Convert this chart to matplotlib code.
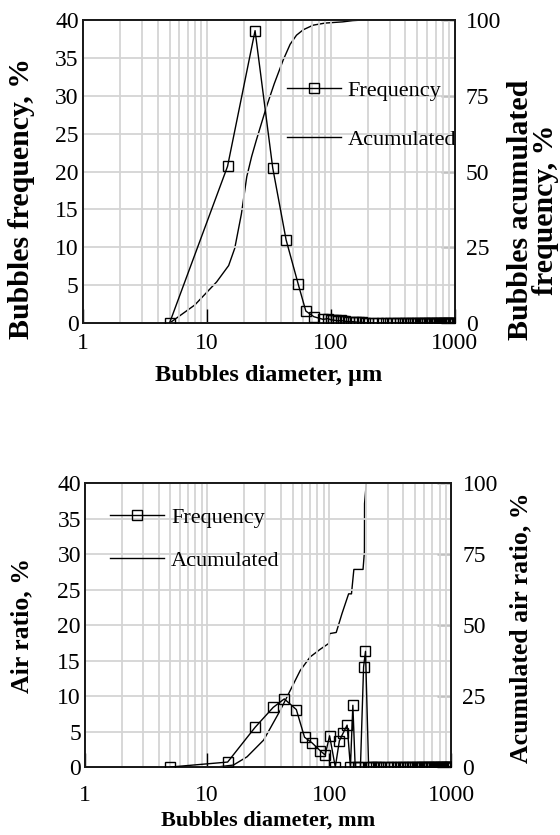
import matplotlib
matplotlib.use("Agg")
import matplotlib.pyplot as plt
from matplotlib.ticker import LogLocator, NullFormatter, FixedLocator, FixedFormatter

plt.rcParams['font.family'] = ['Liberation Serif', 'DejaVu Serif']

# ---------------- Top chart data (bubble diameter, µm) ----------------
top_freq_x = [5, 14.7, 24.5, 34, 43.6, 54.5, 62.9, 73, 86.7, 95, 100, 105, 110, 115, 120,
              125, 130, 140, 150, 160, 170, 180, 190, 200, 220, 240, 260, 280, 300, 320,
              340, 360, 380, 400, 420, 440, 460, 480, 500, 520, 540, 560, 580, 600, 620,
              640, 660, 680, 700, 720, 740, 760, 780, 800, 820, 840, 860, 880, 900, 920,
              940, 960, 980, 1000]
top_freq_y = [0.0, 20.7, 38.6, 20.5, 11.0, 5.2, 1.6, 0.85, 0.5, 0.6, 0.45, 0.4, 0.35, 0.3, 0.35,
              0.3, 0.25, 0.2, 0.2, 0.15, 0.1, 0.1, 0.05, 0.05, 0.0, 0.0, 0.0, 0.0, 0.0, 0.0,
              0.0, 0.0, 0.0, 0.0, 0.0, 0.0, 0.0, 0.0, 0.0, 0.0, 0.0, 0.0, 0.0, 0.0, 0.0,
              0.0, 0.0, 0.0, 0.0, 0.0, 0.0, 0.0, 0.0, 0.0, 0.0, 0.0, 0.0, 0.0, 0.0, 0.0,
              0.0, 0.0, 0.0, 0.0]
top_cum_x = [5, 8, 12, 15, 16.8, 19, 21, 23, 25.1, 30.3, 35, 41.3, 47, 52.9, 60, 72, 90, 125, 150, 180]
top_cum_y = [0, 6, 13.6, 19, 24.7, 36, 48.3, 55, 60.4, 71.4, 79, 86.8, 92, 95, 96.8, 98.3, 99, 99.4, 99.8, 100]

# ---------------- Bottom chart data (bubble diameter, mm) ----------------
bot_freq_x = [5, 14.7, 24.7, 34.7, 42.8, 53.7, 62.7, 72.3, 84.2, 92.5, 100.6, 112, 121, 130, 140,
              149, 156, 163, 172, 180, 191, 198, 210, 220, 230, 240, 250, 260, 280, 300,
              320, 340, 360, 380, 400, 420, 440, 460, 480, 500, 520, 540, 560, 580, 600,
              620, 640, 660, 680, 700, 720, 740, 760, 780, 800, 820, 840, 860, 880, 900,
              920, 940, 960, 980, 1000]
bot_freq_y = [0.0, 0.7, 5.6, 8.4, 9.6, 8.1, 4.2, 3.4, 2.3, 1.7, 4.4, 0.0, 3.7, 4.8, 5.9,
              0.0, 8.7, 0.0, 0.0, 0.0, 14.1, 16.3, 0.0, 0.0, 0.0, 0.0, 0.0, 0.0, 0.0, 0.0,
              0.0, 0.0, 0.0, 0.0, 0.0, 0.0, 0.0, 0.0, 0.0, 0.0, 0.0, 0.0, 0.0, 0.0, 0.0,
              0.0, 0.0, 0.0, 0.0, 0.0, 0.0, 0.0, 0.0, 0.0, 0.0, 0.0, 0.0, 0.0, 0.0, 0.0,
              0.0, 0.0, 0.0, 0.0, 0.0]
bot_cum_x = [12, 16.4, 21.2, 29, 39.7, 47.9, 57.8, 69.8, 84.4, 98.8, 100.6, 114, 127, 144, 152,
             156, 159, 189, 194, 194.5, 201]
bot_cum_y = [0, 0.7, 3.6, 9.5, 20, 27, 34, 38.8, 41.5, 43.5, 47, 47.4, 54, 61, 61,
             66, 69.6, 69.6, 75.8, 92.8, 100]

x_ticks = [1, 10, 100, 1000]
x_tick_labels = ['1', '10', '100', '1000']
left_ticks = [0, 5, 10, 15, 20, 25, 30, 35, 40]
right_ticks = [0, 25, 50, 75, 100]
legend_labels = ['Frequency', 'Acumulated']

fig = plt.figure(figsize=(5.6, 8.35), dpi=100)

TICK_FS = 17
GRID_C = '#d4d4d4'


def setup(ax, axr, xlabel, ylabel, rlabel, xlab_fs, ylab_fs, ylab_xy, rlab_xy,
          xtick_pad, xlabelpad, rlinespacing=1.0):
    ax.set_xscale('log')
    ax.set_xlim(1, 1000)
    ax.set_ylim(0, 40)
    axr.set_ylim(0, 100)
    ax.xaxis.set_major_locator(FixedLocator(x_ticks))
    ax.xaxis.set_major_formatter(FixedFormatter(x_tick_labels))
    ax.xaxis.set_minor_locator(LogLocator(base=10, subs=[2, 3, 4, 5, 6, 7, 8, 9]))
    ax.xaxis.set_minor_formatter(NullFormatter())
    ax.set_yticks(left_ticks)
    axr.set_yticks(right_ticks)
    ax.grid(True, which='both', axis='x', color=GRID_C, lw=1.3, zorder=0)
    ax.grid(True, which='major', axis='y', color=GRID_C, lw=1.3, zorder=0)
    ax.tick_params(axis='x', which='major', direction='in', length=10, width=1,
                   pad=xtick_pad, labelsize=TICK_FS)
    ax.tick_params(axis='x', which='minor', length=0)
    ax.tick_params(axis='y', length=0, pad=3, labelsize=TICK_FS)
    axr.tick_params(axis='y', direction='in', length=10, width=1, pad=8, labelsize=TICK_FS)
    for a in (ax, axr):
        for s in a.spines.values():
            s.set_linewidth(1.4)
            s.set_color('#1a1a1a')
    ax.set_xlabel(xlabel, fontsize=xlab_fs, fontweight='bold', labelpad=xlabelpad)
    ax.set_ylabel(ylabel, fontsize=ylab_fs, fontweight='bold', va='center', ha='center')
    ax.yaxis.set_label_coords(*ylab_xy)
    axr.set_ylabel(rlabel, fontsize=ylab_fs, fontweight='bold', rotation=90,
                   ha='center', va='center', linespacing=rlinespacing)
    axr.yaxis.set_label_coords(*rlab_xy)
    ax.set_zorder(axr.get_zorder() + 1)
    ax.patch.set_visible(False)


def add_legend(ax, anchor, spacing):
    h1, = ax.plot([], [], color='black', lw=1.0, marker='s', ms=7.5, mfc='none', mec='black')
    h2, = ax.plot([], [], color='black', lw=1.0)
    ax.legend([h1, h2], legend_labels, loc='upper left', bbox_to_anchor=anchor,
              frameon=False, fontsize=16, handlelength=2.45, handletextpad=0.3,
              labelspacing=spacing, borderpad=0, borderaxespad=0)


# ---------------- Top chart ----------------
ax1 = fig.add_axes([0.148, 0.613, 0.664, 0.363])
ax1r = ax1.twinx()
ax1r.plot(top_cum_x, top_cum_y, color='black', lw=1.0, zorder=3)
ax1.plot(top_freq_x, top_freq_y, color='black', lw=1.0, marker='s', ms=7.5,
         mfc='none', mec='black', mew=1.0, zorder=4)
setup(ax1, ax1r, 'Bubbles diameter, µm', 'Bubbles frequency, %',
      'Bubbles acumulated\nfrequency, %', 17.5, 21.5,
      (-0.165, 0.41), (1.21, 0.375), 7, 8, 0.93)
add_legend(ax1, (0.548, 0.80), 1.25)

# ---------------- Bottom chart ----------------
ax2 = fig.add_axes([0.152, 0.0814, 0.654, 0.340])
ax2r = ax2.twinx()
ax2r.plot(bot_cum_x, bot_cum_y, color='black', lw=1.0, zorder=3)
ax2.plot(bot_freq_x, bot_freq_y, color='black', lw=1.0, marker='s', ms=7.5,
         mfc='none', mec='black', mew=1.0, zorder=4)
setup(ax2, ax2r, 'Bubbles diameter, mm', 'Air ratio, %',
      'Acumulated air ratio, %', 16, 18.5,
      (-0.172, 0.5), (1.19, 0.49), 13, 3)
add_legend(ax2, (0.068, 0.915), 1.0)

fig.savefig('out.png', dpi=100)
